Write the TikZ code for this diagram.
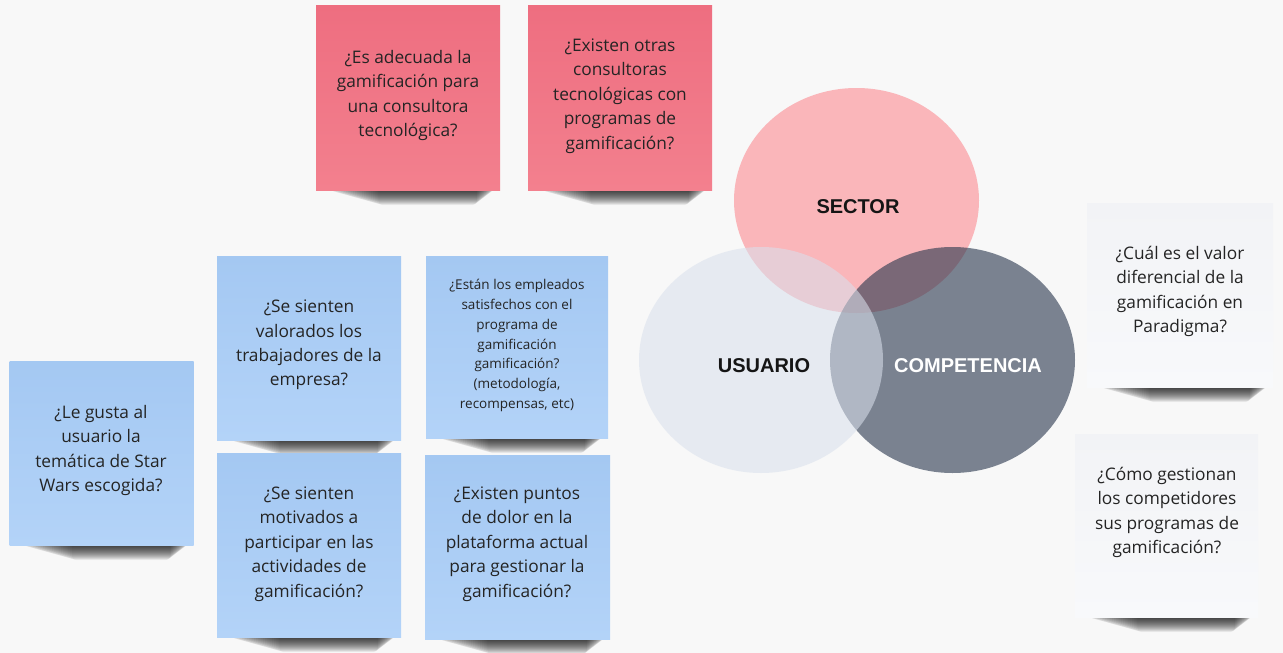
\documentclass[tikz,border=0pt]{standalone}
\usepackage{fontspec}
\setmainfont{Open Sans}
\newfontfamily\vennfont{Liberation Sans}
\definecolor{bg}{HTML}{F8F8F8}
\definecolor{redtop}{HTML}{EE6E80}
\definecolor{redbot}{HTML}{F3808E}
\definecolor{bluetop}{HTML}{A4C8F2}
\definecolor{bluebot}{HTML}{B3D3F8}
\definecolor{whitetop}{HTML}{F2F3F6}
\definecolor{whitebot}{HTML}{F8F9FB}
\definecolor{txt}{HTML}{242424}
\definecolor{sectorc}{RGB}{250,182,186}
\definecolor{compc}{RGB}{38,52,75}
\definecolor{usuc}{RGB}{217,224,236}
\definecolor{venntxt}{HTML}{151515}
\newcommand\noteshadow[3]{%
  \foreach \k in {1,...,28}{%
    \fill[black, fill opacity=0.04, rounded corners=4pt]
      ({#1+12+1.8*\k},{#3-10}) rectangle ({#2-5-0.65*\k},{#3+1+0.5*\k});
  }%
}
\tikzset{
  notebox/.style={rectangle, inner sep=0pt, draw=none},
  rednote/.style={notebox, top color=redtop, bottom color=redbot},
  bluenote/.style={notebox, top color=bluetop, bottom color=bluebot},
  whitenote/.style={notebox, top color=whitetop, bottom color=whitebot},
  qtext/.style={align=center, inner sep=0pt, text=txt, font=\fontsize{17.3}{24.4}\selectfont},
  qsmall/.style={align=center, inner sep=0pt, text=txt, font=\fontsize{13.5}{19.7}\selectfont},
  vennlabel/.style={inner sep=0pt, font=\vennfont\bfseries\fontsize{20}{24}\selectfont}
}
\begin{document}
\begin{tikzpicture}[x=1pt,y=-1pt]
\useasboundingbox (0,0) rectangle (1283,653);
\fill[bg] (0,0) rectangle (1283,653);

% shadows
\noteshadow{316}{500}{190}
\noteshadow{528}{712}{190}
\noteshadow{9.5}{193.5}{545}
\noteshadow{217}{401}{440}
\noteshadow{426}{608}{438}
\noteshadow{217}{401}{637}
\noteshadow{425}{610}{639}
\noteshadow{1087}{1273}{387}
\noteshadow{1075}{1258}{617}

% red notes
\node[rednote, minimum width=184pt, minimum height=185pt] (r1) at (408,97.5) {};
\node[rednote, minimum width=184pt, minimum height=185pt] (r2) at (620,97.5) {};
% blue notes
\node[bluenote, minimum width=184pt, minimum height=184pt] (b0) at (101.5,453) {};
\node[bluenote, minimum width=184pt, minimum height=184pt] (b1) at (309,348) {};
\node[bluenote, minimum width=182pt, minimum height=182pt] (b2) at (517,347) {};
\node[bluenote, minimum width=184pt, minimum height=184pt] (b3) at (309,545) {};
\node[bluenote, minimum width=185pt, minimum height=184pt] (b4) at (517.5,547) {};
% white notes
\node[whitenote, minimum width=186pt, minimum height=184pt] (w1) at (1180,295) {};
\node[whitenote, minimum width=183pt, minimum height=183pt] (w2) at (1166.5,525.5) {};

% Venn
\fill[sectorc] (856.5,200.5) ellipse [x radius=122.5, y radius=112.5];
\fill[compc, fill opacity=0.6] (952.5,360) ellipse [x radius=122.5, y radius=113];
\fill[usuc, fill opacity=0.57] (761,360) ellipse [x radius=122, y radius=113];
\node[vennlabel, text=venntxt] (ls) at (858,207) {SECTOR};
\node[vennlabel, text=venntxt] (lu) at (764,365.5) {USUARIO};
\node[vennlabel, text=white] (lc) at (968,365.5) {COMPETENCIA};

% texts
\node[qtext] (t1) at (408,95.5) {¿Es adecuada la\\gamificación para\\una consultora\\tecnológica?};
\node[qtext] (t2) at (620,96) {¿Existen otras\\consultoras\\tecnológicas con\\programas de\\gamificación?};
\node[qtext] (t3) at (101,450.5) {¿Le gusta al\\usuario la\\temática de Star\\Wars escogida?};
\node[qtext] (t4) at (309,345) {¿Se sienten\\valorados los\\trabajadores de la\\empresa?};
\node[qsmall] (t5) at (517,345.5) {¿Están los empleados\\satisfechos con el\\programa de\\gamificación\\gamificación?\\(metodología,\\recompensas, etc)};
\node[qtext] (t6) at (309,544) {¿Se sienten\\motivados a\\participar en las\\actividades de\\gamificación?};
\node[qtext] (t7) at (517,544) {¿Existen puntos\\de dolor en la\\plataforma actual\\para gestionar la\\gamificación?};
\node[qtext] (t8) at (1180,291.5) {¿Cuál es el valor\\diferencial de la\\gamificación en\\Paradigma?};
\node[qtext] (t9) at (1167,512.5) {¿Cómo gestionan\\los competidores\\sus programas de\\gamificación?};
\end{tikzpicture}
\end{document}
